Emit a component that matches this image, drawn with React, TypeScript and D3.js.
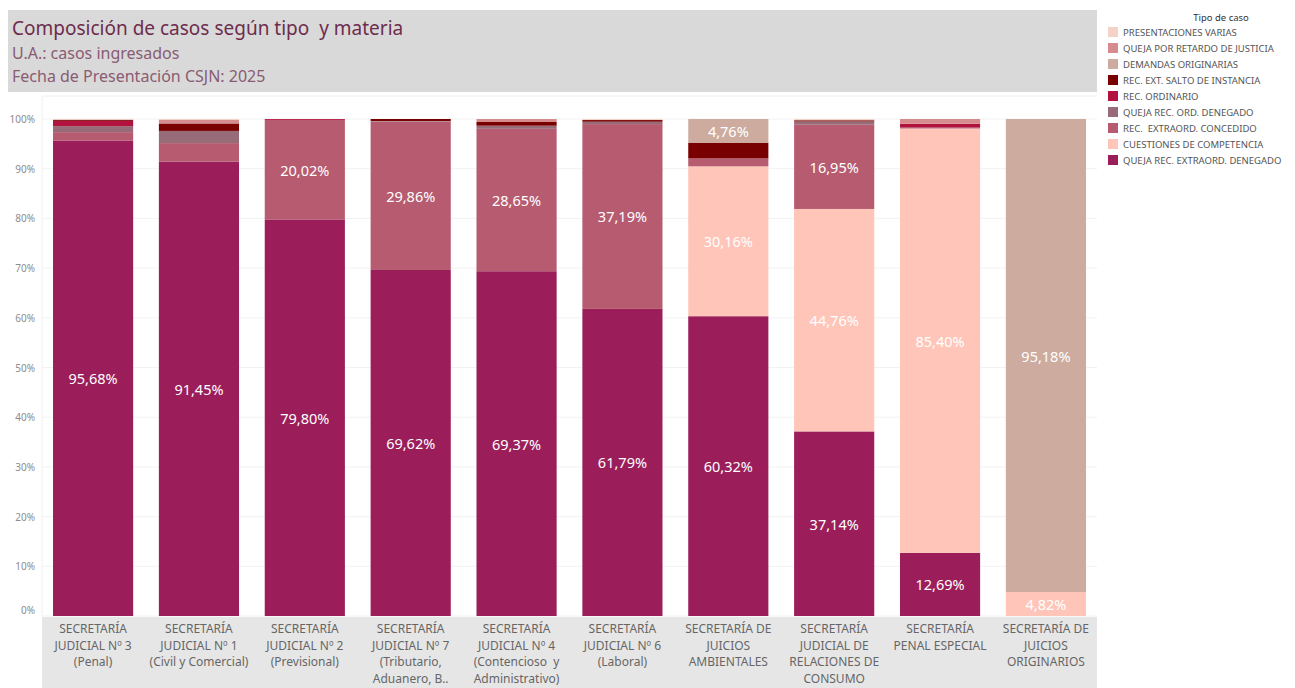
import React from "react";
import * as d3 from "d3";

const categories: string[][] = [
  ["SECRETARÍA", "JUDICIAL Nº 3", "(Penal)"],
  ["SECRETARÍA", "JUDICIAL Nº 1", "(Civil y Comercial)"],
  ["SECRETARÍA", "JUDICIAL Nº 2", "(Previsional)"],
  ["SECRETARÍA", "JUDICIAL Nº 7", "(Tributario,", "Aduanero, B.."],
  ["SECRETARÍA", "JUDICIAL Nº 4", "(Contencioso  y", "Administrativo)"],
  ["SECRETARÍA", "JUDICIAL Nº 6", "(Laboral)"],
  ["SECRETARÍA DE", "JUICIOS", "AMBIENTALES"],
  ["SECRETARÍA", "JUDICIAL DE", "RELACIONES DE", "CONSUMO"],
  ["SECRETARÍA", "PENAL ESPECIAL"],
  ["SECRETARÍA DE", "JUICIOS", "ORIGINARIOS"],
];

// series, bottom of stack first
const quejaRecExtraordDenegado = [95.68, 91.45, 79.8, 69.62, 69.37, 61.79, 60.32, 37.14, 12.69, 0];
const cuestionesDeCompetencia = [0, 0, 0, 0, 0, 0, 30.16, 44.76, 85.4, 4.82];
const recExtraordConcedido = [1.68, 3.7, 20.02, 29.86, 28.65, 37.19, 1.59, 16.95, 0.3, 0];
const quejaRecOrdDenegado = [1.2, 2.45, 0, 0.12, 0.63, 0.47, 0, 0.65, 0, 0];
const recOrdinario = [1.07, 0, 0.18, 0, 0, 0, 0, 0, 0.66, 0];
const recExtSaltoDeInstancia = [0.22, 1.5, 0, 0.4, 0.75, 0.34, 3.17, 0.25, 0, 0];
const demandasOriginarias = [0, 0, 0, 0, 0, 0, 4.76, 0, 0, 95.18];
const quejaPorRetardoDeJusticia = [0, 0.7, 0, 0, 0.6, 0, 0, 0, 0.95, 0];
const presentacionesVarias = [0.15, 0.2, 0, 0, 0, 0.21, 0, 0.25, 0, 0];

const seriesNames = [
  "QUEJA REC. EXTRAORD. DENEGADO",
  "CUESTIONES DE COMPETENCIA",
  "REC.  EXTRAORD. CONCEDIDO",
  "QUEJA REC. ORD. DENEGADO",
  "REC. ORDINARIO",
  "REC. EXT. SALTO DE INSTANCIA",
  "DEMANDAS ORIGINARIAS",
  "QUEJA POR RETARDO DE JUSTICIA",
  "PRESENTACIONES VARIAS",
];
const seriesValues = [
  quejaRecExtraordDenegado,
  cuestionesDeCompetencia,
  recExtraordConcedido,
  quejaRecOrdDenegado,
  recOrdinario,
  recExtSaltoDeInstancia,
  demandasOriginarias,
  quejaPorRetardoDeJusticia,
  presentacionesVarias,
];
const seriesColors = [
  "#9b1e5a",
  "#fec5b8",
  "#b75c70",
  "#976c78",
  "#b3123e",
  "#780000",
  "#cdac9f",
  "#d68b8d",
  "#f6d1c8",
];
const yTicks = [0, 10, 20, 30, 40, 50, 60, 70, 80, 90, 100];

const FONT = "'Noto Sans', 'Open Sans', sans-serif";
const PRE: React.CSSProperties = { whiteSpace: "pre" };

export default function App() {
  const W = 1295;
  const H = 688;
  const plotL = 42;
  const plotR = 1097;
  const yTop = 119;
  const yBot = 616;

  const x = d3
    .scaleBand<number>()
    .domain(categories.map((_, i) => i))
    .range([plotL, plotR])
    .paddingInner(0.243)
    .paddingOuter(0.104);
  const y = d3.scaleLinear().domain([0, 100]).range([yBot, yTop]);

  const rows = categories.map((_, i) => {
    const r: Record<string, number> = { idx: i };
    seriesNames.forEach((s, k) => (r[s] = seriesValues[k][i]));
    return r;
  });
  const stacked = d3.stack<Record<string, number>>().keys(seriesNames)(rows);
  const fmt = (v: number) => v.toFixed(2).replace(".", ",") + "%";

  const legendItems = seriesNames
    .map((n, k) => ({ n, c: seriesColors[k] }))
    .reverse();

  return (
    <svg
      width={W}
      height={H}
      style={{ position: "absolute", left: 0, top: 0, background: "#fff" }}
      fontFamily={FONT}
    >
      {/* title box */}
      <rect x={8} y={10} width={1089} height={82} fill="#d9d9d9" />
      <text x={12} y={35} fontSize={19} fill="#6e2c4c" style={PRE}>
        {"Composición de casos según tipo  y materia"}
      </text>
      <text x={12} y={59} fontSize={16} fill="#8a5b72">
        U.A.: casos ingresados
      </text>
      <text x={12} y={82} fontSize={16} fill="#8a5b72">
        Fecha de Presentación CSJN: 2025
      </text>

      {/* plot frame */}
      <line x1={plotL} x2={plotL} y1={96} y2={yBot} stroke="#f0f0f0" />
      <line x1={plotL} x2={plotR} y1={96} y2={96} stroke="#f0f0f0" />
      {yTicks.map((t) => (
        <g key={t}>
          <line x1={plotL} x2={plotR} y1={y(t)} y2={y(t)} stroke="#f2f2f2" />
          <text
            x={35}
            y={t === 0 ? y(t) - 6 : y(t)}
            fontSize={10}
            fill="#8c8c8c"
            textAnchor="end"
            dominantBaseline="central"
          >
            {t}%
          </text>
        </g>
      ))}

      {/* bars */}
      {stacked.map((layer, k) => (
        <g key={layer.key} fill={seriesColors[k]}>
          {layer.map((d, i) =>
            d[1] - d[0] > 0 ? (
              <rect
                key={i}
                x={x(i)!}
                width={x.bandwidth()}
                y={y(d[1])}
                height={y(d[0]) - y(d[1])}
              />
            ) : null
          )}
        </g>
      ))}
      {stacked.map((layer) =>
        layer.map((d, i) =>
          d[1] - d[0] >= 4.5 ? (
            <text
              key={layer.key + i}
              x={x(i)! + x.bandwidth() / 2}
              y={(y(d[0]) + y(d[1])) / 2}
              fontSize={14.5}
              fill="#ffffff"
              textAnchor="middle"
              dominantBaseline="central"
            >
              {fmt(d[1] - d[0])}
            </text>
          ) : null
        )
      )}

      {/* x axis band */}
      <rect x={plotL} y={yBot + 1} width={plotR - plotL} height={H - yBot - 1} fill="#e6e6e6" />
      {categories.map((lines, i) => (
        <text
          key={i}
          x={x(i)! + x.bandwidth() / 2}
          fontSize={12}
          fill="#666666"
          textAnchor="middle"
          style={PRE}
        >
          {lines.map((l, j) => (
            <tspan key={j} x={x(i)! + x.bandwidth() / 2} y={633 + j * 16.7}>
              {l}
            </tspan>
          ))}
        </text>
      ))}

      {/* legend */}
      <text x={1221} y={21} fontSize={9.5} fill="#333" textAnchor="middle">
        Tipo de caso
      </text>
      {legendItems.map((it, j) => (
        <g key={it.n} transform={`translate(1108, ${27 + j * 16})`}>
          <rect width={10} height={10} fill={it.c} />
          <text x={15} y={5} fontSize={9.5} fill="#555" dominantBaseline="central" style={PRE}>
            {it.n}
          </text>
        </g>
      ))}
    </svg>
  );
}
